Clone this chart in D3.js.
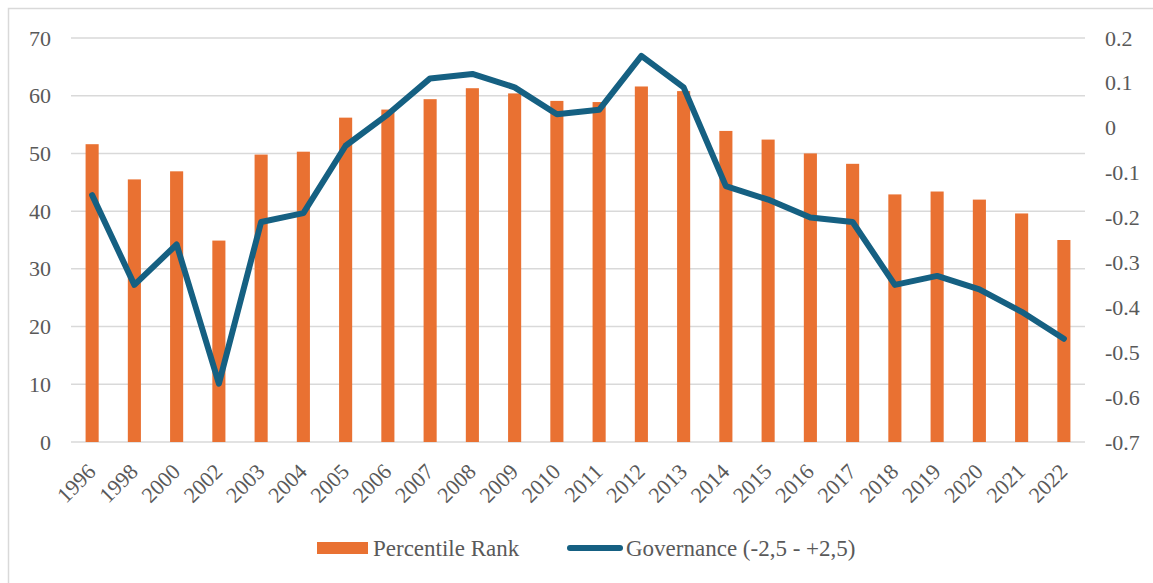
<!DOCTYPE html>
<html>
<head>
<meta charset="utf-8">
<script src="https://cdn.jsdelivr.net/npm/d3@7"></script>
<style>
  body { margin: 0; background: #fff; }
</style>
</head>
<body>
<svg id="chart" width="1153" height="583"></svg>
<script>
// data
const years = ['1996', '1998', '2000', '2002', '2003', '2004', '2005', '2006', '2007', '2008', '2009', '2010',
  '2011', '2012', '2013', '2014', '2015', '2016', '2017', '2018', '2019', '2020', '2021', '2022'];
const percentileRank = [51.6, 45.5, 46.9, 34.9, 49.8, 50.3, 56.2, 57.6, 59.4, 61.3, 60.4, 59.1,
  58.9, 61.6, 60.8, 53.9, 52.4, 50.0, 48.2, 42.9, 43.4, 42.0, 39.6, 35.0];
const governance = [-0.15, -0.35, -0.26, -0.57, -0.21, -0.19, -0.04, 0.03, 0.11, 0.12, 0.09, 0.03,
  0.04, 0.16, 0.09, -0.13, -0.16, -0.20, -0.21, -0.35, -0.33, -0.36, -0.41, -0.47];
const leftTicks = [0, 10, 20, 30, 40, 50, 60, 70];
const rightTicks = [-0.7, -0.6, -0.5, -0.4, -0.3, -0.2, -0.1, 0, 0.1, 0.2];
const seriesNames = ['Percentile Rank', 'Governance (-2,5 - +2,5)'];

const barColor = '#E97132';
const lineColor = '#156082';
const gridColor = '#d9d9d9';
const textColor = '#595959';
const fontFam = "'Liberation Serif', 'Times New Roman', Times, serif";

const svg = d3.select('#chart')
  .attr('font-family', fontFam);
const margin = { left: 71, right: 68, top: 38, bottom: 141 };
const width = 1153 - margin.left - margin.right;
const height = 583 - margin.top - margin.bottom;

// outer chart border (runs off the picture at right and bottom)
svg.append('rect')
  .attr('x', 8.5).attr('y', 8.5)
  .attr('width', 1170).attr('height', 600)
  .attr('fill', 'none').attr('stroke', gridColor).attr('stroke-width', 1.5);

const g = svg.append('g').attr('transform', `translate(${margin.left},${margin.top})`);

const x = d3.scaleBand().domain(years).range([0, width]);
const yLeft = d3.scaleLinear().domain([0, 70]).range([height, 0]);
const yRight = d3.scaleLinear().domain([-0.7, 0.2]).range([height, 0]);

// gridlines
g.selectAll('.grid').data(leftTicks).enter().append('line')
  .attr('x1', 0).attr('x2', width)
  .attr('y1', d => yLeft(d)).attr('y2', d => yLeft(d))
  .attr('stroke', gridColor).attr('stroke-width', 1.5);

// left axis labels
const leftAxis = d3.axisLeft(yLeft).tickValues(leftTicks).tickSize(0).tickPadding(20);
g.append('g').call(leftAxis)
  .call(s => s.select('.domain').remove())
  .selectAll('text')
  .style('font-family', fontFam).style('font-size', '22px').attr('fill', textColor);

// right axis labels
const fmt = d => (Math.round(d * 10) / 10).toString();
const rightAxis = d3.axisRight(yRight).tickValues(rightTicks).tickFormat(fmt).tickSize(0).tickPadding(20);
g.append('g').attr('transform', `translate(${width},0)`).call(rightAxis)
  .call(s => s.select('.domain').remove())
  .selectAll('text')
  .style('font-family', fontFam).style('font-size', '22px').attr('fill', textColor);

// bars
const barW = x.bandwidth() * 0.31;
g.selectAll('.bar').data(percentileRank).enter().append('rect')
  .attr('x', (d, i) => x(years[i]) + x.bandwidth() / 2 - barW / 2)
  .attr('y', d => yLeft(d))
  .attr('width', barW)
  .attr('height', d => height - yLeft(d))
  .attr('fill', barColor);

// x axis labels, rotated
g.append('g').selectAll('text').data(years).enter().append('text')
  .attr('transform', d => `translate(${x(d) + x.bandwidth() / 2 + 5},${height + 31}) rotate(-45)`)
  .attr('text-anchor', 'end')
  .attr('fill', textColor)
  .style('font-family', fontFam)
  .style('font-size', '22px')
  .text(d => d);

// governance line
const line = d3.line()
  .x((d, i) => x(years[i]) + x.bandwidth() / 2)
  .y(d => yRight(d));
g.append('path').datum(governance)
  .attr('d', line)
  .attr('fill', 'none')
  .attr('stroke', lineColor)
  .attr('stroke-width', 6)
  .attr('stroke-linejoin', 'round')
  .attr('stroke-linecap', 'round');

// legend
const leg = svg.append('g').attr('transform', 'translate(0,548)');
leg.append('rect').attr('x', 317).attr('y', -6).attr('width', 51).attr('height', 12).attr('fill', barColor);
leg.append('text').attr('x', 373).attr('y', 8).attr('fill', textColor)
  .style('font-family', fontFam).style('font-size', '23px').text(seriesNames[0]);
leg.append('line').attr('x1', 570).attr('x2', 620).attr('y1', 0).attr('y2', 0)
  .attr('stroke', lineColor).attr('stroke-width', 6).attr('stroke-linecap', 'round');
leg.append('text').attr('x', 626).attr('y', 8).attr('fill', textColor)
  .style('font-family', fontFam).style('font-size', '23px').text(seriesNames[1]);
</script>
</body>
</html>
